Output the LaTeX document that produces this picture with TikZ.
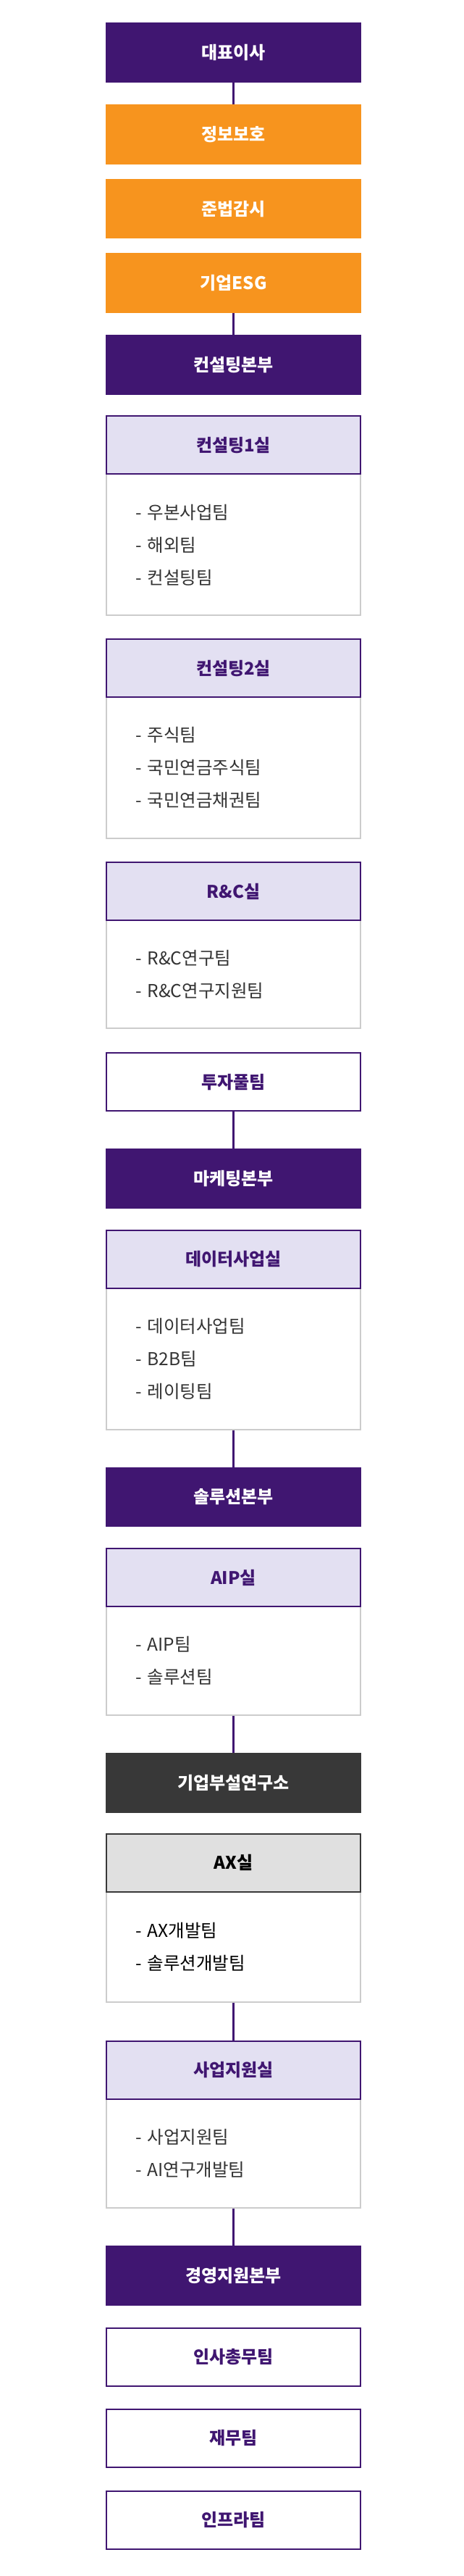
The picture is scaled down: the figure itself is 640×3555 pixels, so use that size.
\documentclass[tikz,border=0pt]{standalone}
\usepackage{fontspec}
\setmainfont{Noto Sans CJK KR}
\usetikzlibrary{positioning, backgrounds}
\definecolor{cpurple}{HTML}{401671}
\definecolor{corange}{HTML}{F7941E}
\definecolor{clav}{HTML}{E3E0F2}
\definecolor{cgrey}{HTML}{CCCCCC}
\definecolor{cdark}{HTML}{383838}
\definecolor{cax}{HTML}{E0E0E0}
\definecolor{ctext}{HTML}{333333}
\tikzset{
  every picture/.style={x=1pt, y=1pt},
  unit/.style={minimum width=353pt, minimum height=82.7pt, inner sep=0pt, outer sep=0pt, font=\fontsize{24}{28}\selectfont\bfseries},
  hq/.style={unit, fill=cpurple, text=white},
  staff/.style={unit, fill=corange, text=white},
  lab/.style={unit, fill=cdark, text=white},
  boxed/.style={unit, draw=#1, line width=2pt, minimum width=351pt, minimum height=80pt, outer sep=1pt},
  room/.style={boxed=cpurple, fill=clav, text=cpurple},
  axroom/.style={boxed=cdark, fill=cax, text=black},
  team/.style={boxed=cpurple, fill=white, text=cpurple},
  teams/.style={draw=cgrey, fill=white, line width=2pt, minimum width=351pt, minimum height=#1, inner sep=0pt, outer sep=1pt, text width=271pt, align=left, text=ctext, font=\fontsize{24.5}{45}\selectfont},
  link/.style={draw=cpurple, line width=2.5pt},
}

\begin{document}
\begin{tikzpicture}
  \useasboundingbox (0,0) rectangle (640,-3555);
  % top of the chart
  \node[hq] (ceo) at (322.5,-72.35) {대표이사};
  \node[staff, below=30.3pt of ceo] (sec) {정보보호};
  \node[staff, below=20pt of sec] (comp) {준법감시};
  \node[staff, below=20pt of comp] (esg) {기업ESG};
  \draw[link] (ceo) -- (sec);
  % consulting
  \node[hq, below=30pt of esg] (cons) {컨설팅본부};
  \draw[link] (esg) -- (cons);
  \node[room, below=28.5pt of cons] (c1) {컨설팅1실};
  \begin{scope}[on background layer]
    \node[teams=195pt, below=-2pt of c1] (c1t) {- 우본사업팀\\- 해외팀\\- 컨설팅팀};
  \end{scope}
  \node[room, below=31pt of c1t] (c2) {컨설팅2실};
  \begin{scope}[on background layer]
    \node[teams=195pt, below=-2pt of c2] (c2t) {- 주식팀\\- 국민연금주식팀\\- 국민연금채권팀};
  \end{scope}
  \node[room, below=31pt of c2t] (rc) {R\&C실};
  \begin{scope}[on background layer]
    \node[teams=149pt, below=-2pt of rc] (rct) {- R\&C연구팀\\- R\&C연구지원팀};
  \end{scope}
  \node[team, below=32pt of rct] (pool) {투자풀팀};
  % marketing
  \node[hq, below=50.5pt of pool] (mkt) {마케팅본부};
  \draw[link] (pool) -- (mkt);
  \node[room, below=29pt of mkt] (data) {데이터사업실};
  \begin{scope}[on background layer]
    \node[teams=195pt, below=-2pt of data] (datat) {- 데이터사업팀\\- B2B팀\\- 레이팅팀};
  \end{scope}
  % solutions
  \node[hq, below=51pt of datat] (sol) {솔루션본부};
  \draw[link] (datat) -- (sol);
  \node[room, below=29pt of sol] (aip) {AIP실};
  \begin{scope}[on background layer]
    \node[teams=150pt, below=-2pt of aip] (aipt) {- AIP팀\\- 솔루션팀};
  \end{scope}
  % research lab
  \node[lab, below=51pt of aipt] (rnd) {기업부설연구소};
  \draw[link] (aipt) -- (rnd);
  \node[axroom, below=28pt of rnd] (ax) {AX실};
  \begin{scope}[on background layer]
    \node[teams=152pt, text=black, below=-2pt of ax] (axt) {- AX개발팀\\- 솔루션개발팀};
  \end{scope}
  \node[room, below=52pt of axt] (biz) {사업지원실};
  \draw[link] (axt) -- (biz);
  \begin{scope}[on background layer]
    \node[teams=150pt, below=-2pt of biz] (bizt) {- 사업지원팀\\- AI연구개발팀};
  \end{scope}
  % management
  \node[hq, below=51pt of bizt] (mgmt) {경영지원본부};
  \draw[link] (bizt) -- (mgmt);
  \node[team, below=30pt of mgmt] (hr) {인사총무팀};
  \node[team, below=30pt of hr] (fin) {재무팀};
  \node[team, below=31pt of fin] (infra) {인프라팀};
\end{tikzpicture}
\end{document}
